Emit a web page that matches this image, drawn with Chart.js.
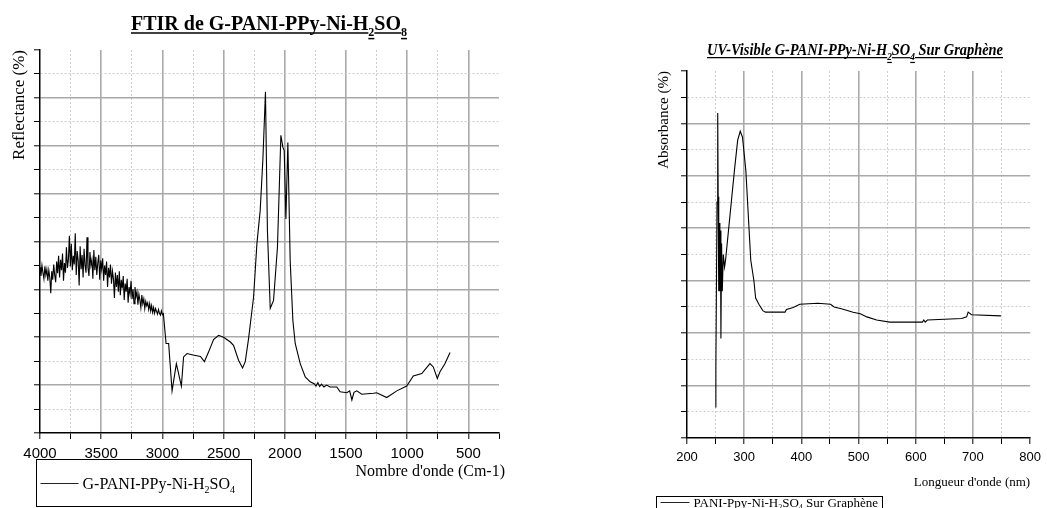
<!DOCTYPE html>
<html>
<head>
<meta charset="utf-8">
<script src="https://cdn.jsdelivr.net/npm/chart.js"></script>
<style>
body { margin: 0; background: #fff; width: 1047px; height: 508px; overflow: hidden; position: relative; }
canvas { position: absolute; top: 0; }
#ftir { left: 0; }
#uv { left: 640px; }
</style>
</head>
<body>
<canvas id="ftir" width="520" height="508"></canvas>
<canvas id="uv" width="407" height="508"></canvas>
<script>
// FTIR spectrum: wavenumber (cm-1) and reflectance
const ftirWave = [
  4000, 3992, 3984, 3976, 3968, 3960, 3952, 3944, 3936, 3928, 3920, 3912, 3904, 3896, 3888, 3880,
  3872, 3864, 3856, 3848, 3840, 3832, 3824, 3816, 3808, 3800, 3792, 3784, 3776, 3768, 3760, 3752,
  3744, 3736, 3728, 3720, 3712, 3704, 3696, 3688, 3680, 3672, 3664, 3656, 3648, 3640, 3632, 3624,
  3616, 3608, 3600, 3592, 3584, 3576, 3568, 3560, 3552, 3544, 3536, 3528, 3520, 3512, 3504, 3496,
  3488, 3480, 3472, 3464, 3456, 3448, 3440, 3432, 3424, 3416, 3408, 3400, 3392, 3384, 3376, 3368,
  3360, 3352, 3344, 3336, 3328, 3320, 3312, 3304, 3296, 3288, 3280, 3272, 3264, 3256, 3248, 3240,
  3232, 3224, 3216, 3208, 3200, 3192, 3184, 3176, 3168, 3160, 3152, 3144, 3136, 3128, 3120, 3112,
  3104, 3096, 3088, 3080, 3072, 3064, 3056, 3048, 3040, 3032, 3024, 3016, 3008, 3000, 2992,
  2970, 2949, 2921, 2886, 2845, 2827, 2799, 2750, 2689, 2657, 2623,
  2582, 2541, 2500, 2445, 2419, 2378, 2345, 2323, 2296, 2255, 2228, 2201, 2179, 2158, 2142, 2119,
  2092, 2060, 2032, 2016, 2005, 1991, 1975, 1956, 1934, 1915, 1874, 1833, 1793, 1760, 1745, 1730,
  1715, 1700, 1680, 1660, 1630, 1575, 1548, 1493, 1470, 1452, 1435, 1412, 1371, 1276, 1249, 1167,
  1085, 1004, 950, 881, 814, 787, 754, 732, 691, 650
];
const ftirRefl = [
  3.46, 3.28, 3.50, 3.35, 3.22, 3.48, 3.30, 3.42, 3.18, 3.40, 3.25, 2.92, 3.38, 3.20, 3.52, 3.30,
  3.15, 3.58, 3.34, 3.70, 3.25, 3.62, 3.40, 3.75, 3.18, 3.55, 3.35, 3.88, 3.45, 3.62, 4.12, 3.48,
  3.95, 3.40, 3.70, 3.52, 4.17, 3.30, 3.80, 3.60, 3.08, 3.90, 3.42, 3.72, 3.25, 3.85, 3.50, 3.35,
  4.09, 3.45, 3.28, 3.78, 3.50, 3.62, 3.22, 3.82, 3.40, 3.68, 3.30, 3.55, 3.72, 3.20, 3.60, 3.42,
  3.65, 3.18, 3.50, 3.30, 3.58, 3.05, 3.45, 3.25, 3.52, 3.12, 3.38, 3.22, 2.82, 3.35, 3.05, 3.30,
  2.95, 3.38, 2.88, 3.20, 3.02, 3.28, 2.78, 3.12, 2.95, 3.22, 2.72, 3.05, 2.90, 3.18, 2.80, 3.00,
  2.70, 3.05, 2.85, 2.95, 2.68, 2.90, 2.78, 2.62, 2.88, 2.70, 2.80, 2.60, 2.75, 2.66, 2.72, 2.58,
  2.70, 2.55, 2.66, 2.52, 2.62, 2.50, 2.60, 2.54, 2.48, 2.58, 2.50, 2.46, 2.55, 2.47, 2.49,
  1.87, 1.87, 0.88, 1.45, 0.98, 1.59, 1.66, 1.63, 1.60, 1.49, 1.69,
  1.95, 2.04, 2.00, 1.90, 1.83, 1.52, 1.36, 1.49, 1.97, 2.84, 3.95, 4.65, 5.72, 7.13, 4.23, 2.60,
  2.77, 3.88, 6.22, 5.97, 5.90, 4.47, 6.07, 3.60, 2.35, 1.87, 1.45, 1.17, 1.07, 1.03, 0.98, 1.05,
  0.97, 1.02, 0.96, 1.00, 0.96, 0.96, 0.86, 0.84, 0.88, 0.69, 0.85, 0.88, 0.81, 0.83, 0.84, 0.74,
  0.88, 0.98, 1.19, 1.24, 1.45, 1.38, 1.14, 1.28, 1.45, 1.68
];

// UV-Visible spectrum: wavelength (nm) and absorbance
const uvWave = [
  249.5, 250.5, 252.5, 253.7, 254.5, 255.5, 256.5, 257.5, 258.5, 259.3, 260.5, 261.7, 263.5, 265.7,
  267.4, 274.3, 282.9, 288.6, 293.1, 297, 302.9, 311.5, 317, 320, 325.7, 332.6, 337.2, 371.5, 373.8,
  385.8, 397.3, 428.6, 451, 457.3, 471.5, 490.4, 503, 514.4, 531.6, 554.4, 611.7, 614, 616.5, 620.2,
  680.3, 688.9, 691.6, 697.4, 748.9
];
const uvAbs = [
  0.59, 1.35, 4.5, 6.2, 4.6, 2.8, 4.1, 2.8, 3.96, 1.9, 3.71, 2.8, 3.5, 3.26,
  3.39, 4.15, 5.1, 5.68, 5.85, 5.74, 5.1, 3.39, 3.0, 2.67, 2.55, 2.43, 2.4, 2.4, 2.45,
  2.49, 2.55, 2.57, 2.55, 2.5, 2.46, 2.4, 2.37, 2.31, 2.25, 2.21, 2.21, 2.25, 2.21, 2.25,
  2.28, 2.31, 2.4, 2.35, 2.33
];

const ftirTicks = [4000, 3500, 3000, 2500, 2000, 1500, 1000, 500];
const uvTicks = [200, 300, 400, 500, 600, 700, 800];

const MAJOR = '#a9a9a9';
const MINOR = '#cdcdcd';
const SERIF = '"Liberation Serif", "Times New Roman", serif';
const SANS = '"Liberation Sans", Arial, sans-serif';

// text with subscripts: parts = [[text, isSub], ...]
function drawRich(ctx, parts, x, y, o) {
  const main = `${o.style || 'normal'} ${o.weight || 'normal'} ${o.size}px ${SERIF}`;
  const sub = `${o.style || 'normal'} ${o.weight || 'normal'} ${Math.round(o.size * 0.62)}px ${SERIF}`;
  ctx.save();
  ctx.fillStyle = '#000';
  ctx.strokeStyle = '#000';
  ctx.textBaseline = 'alphabetic';
  ctx.textAlign = 'left';
  let total = 0;
  const widths = parts.map(p => {
    ctx.font = p[1] ? sub : main;
    const w = ctx.measureText(p[0]).width;
    total += w;
    return w;
  });
  const sx = o.width ? o.width / total : 1;
  let x0 = x;
  if (o.align === 'center') x0 = x - total * sx / 2;
  if (o.align === 'right') x0 = x - total * sx;
  ctx.translate(x0, y);
  ctx.scale(sx, 1);
  let px = 0;
  parts.forEach((p, i) => {
    ctx.font = p[1] ? sub : main;
    const dy = p[1] ? o.size * 0.28 : 0;
    ctx.fillText(p[0], px, dy);
    if (o.underline) {
      ctx.lineWidth = o.underline;
      ctx.beginPath();
      ctx.moveTo(px, dy + o.underline + 1.5);
      ctx.lineTo(px + widths[i], dy + o.underline + 1.5);
      ctx.stroke();
    }
    px += widths[i];
  });
  ctx.restore();
}

function legendBox(ctx, box, lineEnd, parts, size) {
  ctx.save();
  ctx.strokeStyle = '#000';
  ctx.lineWidth = 1;
  ctx.strokeRect(box[0], box[1], box[2], box[3]);
  const cy = box[1] + (lineEnd[1]);
  ctx.strokeStyle = '#222';
  ctx.beginPath();
  ctx.moveTo(box[0] + 4, cy);
  ctx.lineTo(box[0] + lineEnd[0], cy);
  ctx.stroke();
  ctx.restore();
  drawRich(ctx, parts, box[0] + lineEnd[0] + 4, cy + size * 0.33, { size: size });
}

function gridOpts(major, edges) {
  return {
    color: c => {
      if (!c.tick) return MAJOR;
      const v = c.tick.value;
      if (edges.includes(v)) return 'rgba(0,0,0,0)';
      return Math.abs(v % major) < 1e-6 ? MAJOR : MINOR;
    },
    lineWidth: c => (c.tick && Math.abs(c.tick.value % major) < 1e-6) ? 1.6 : 1,
    drawTicks: true,
    tickLength: 6,
    tickColor: '#000',
    tickWidth: 1
  };
}

function borderOpts(major) {
  return {
    color: '#000',
    width: 1.5,
    dash: c => (c.tick && Math.abs(c.tick.value % major) > 1e-6) ? [2, 2] : []
  };
}

const line = (xs, ys) => xs.map((x, i) => ({ x: x, y: ys[i] }));

new Chart(document.getElementById('ftir'), {
  type: 'line',
  data: {
    datasets: [{
      label: 'G-PANI-PPy-Ni-H2SO4',
      data: line(ftirWave, ftirRefl),
      borderColor: '#000',
      borderWidth: 1.1,
      pointRadius: 0,
      tension: 0
    }]
  },
  options: {
    responsive: false,
    animation: false,
    devicePixelRatio: 1,
    layout: { padding: { top: 50, right: 21, bottom: 28, left: 0 } },
    plugins: { legend: { display: false }, tooltip: { enabled: false } },
    scales: {
      x: {
        type: 'linear',
        reverse: true,
        min: 250,
        max: 4000,
        afterFit: s => { s.height = 47; },
        ticks: {
          stepSize: 250,
          autoSkip: false,
          maxRotation: 0,
          padding: 6,
          color: '#000',
          font: { family: SANS, size: 15 },
          callback: v => ftirTicks.includes(v) ? String(v) : ''
        },
        grid: gridOpts(500, [250, 4000]),
        border: borderOpts(500)
      },
      y: {
        min: 0,
        max: 8,
        afterFit: s => { s.width = 40; },
        ticks: { stepSize: 0.5, callback: () => '' },
        grid: gridOpts(1, [0, 8]),
        border: borderOpts(1),
        title: {
          display: true,
          text: 'Reflectance (%)',
          align: 'end',
          color: '#000',
          padding: { top: 9, bottom: 0 },
          font: { family: SERIF, size: 17 }
        }
      }
    }
  },
  plugins: [{
    id: 'ftirDecor',
    afterDraw(chart) {
      const ctx = chart.ctx;
      drawRich(ctx, [['FTIR de G-PANI-PPy-Ni-H', 0], ['2', 1], ['SO', 0], ['8', 1]], 269, 30,
        { size: 20, weight: 'bold', align: 'center', underline: 1.5 });
      // axis title of the reversed wavenumber axis, right-aligned under the plot
      drawRich(ctx, [["Nombre d'onde (Cm-1)", 0]], 505, 476, { size: 16, align: 'right' });
      legendBox(ctx, [36.5, 459.5, 215, 47], [42, 24], [['G-PANI-PPy-Ni-H', 0], ['2', 1], ['SO', 0], ['4', 1]], 16);
    }
  }]
});

new Chart(document.getElementById('uv'), {
  type: 'line',
  data: {
    datasets: [{
      label: 'PANI-Ppy-Ni-H2SO4 Sur Graphène',
      data: line(uvWave, uvAbs),
      borderColor: '#000',
      borderWidth: 1.1,
      pointRadius: 0,
      tension: 0
    }]
  },
  options: {
    responsive: false,
    animation: false,
    devicePixelRatio: 1,
    layout: { padding: { top: 71, right: 11, bottom: 18, left: 0 } },
    plugins: { legend: { display: false }, tooltip: { enabled: false } },
    scales: {
      x: {
        type: 'linear',
        min: 200,
        max: 800,
        afterFit: s => { s.height = 52; },
        ticks: {
          stepSize: 50,
          autoSkip: false,
          maxRotation: 0,
          padding: 6,
          color: '#000',
          font: { family: SANS, size: 13 },
          callback: v => uvTicks.includes(v) ? String(v) : ''
        },
        grid: gridOpts(100, [200, 800]),
        border: borderOpts(100),
        title: {
          display: true,
          text: "Longueur d'onde (nm)",
          align: 'end',
          color: '#000',
          padding: 0,
          font: { family: SERIF, size: 13 }
        }
      },
      y: {
        min: 0,
        max: 7,
        afterFit: s => { s.width = 47; },
        ticks: { stepSize: 0.5, callback: () => '' },
        grid: gridOpts(1, [0, 7]),
        border: borderOpts(1),
        title: {
          display: true,
          text: 'Absorbance (%)',
          align: 'end',
          color: '#000',
          padding: { top: 15, bottom: 0 },
          font: { family: SERIF, size: 15 }
        }
      }
    }
  },
  plugins: [{
    id: 'uvDecor',
    afterDraw(chart) {
      const ctx = chart.ctx;
      drawRich(ctx, [['UV-Visible G-PANI-PPy-Ni-H', 0], ['2', 1], ['SO', 0], ['4', 1], [' Sur Graphène', 0]], 215, 55,
        { size: 17, weight: 'bold', style: 'italic', align: 'center', underline: 1.2, width: 296 });
      legendBox(ctx, [16.5, 496.5, 226, 20], [33, 6], [['PANI-Ppy-Ni-H', 0], ['2', 1], ['SO', 0], ['4', 1], [' Sur Graphène', 0]], 13);
    }
  }]
});
</script>
</body>
</html>
